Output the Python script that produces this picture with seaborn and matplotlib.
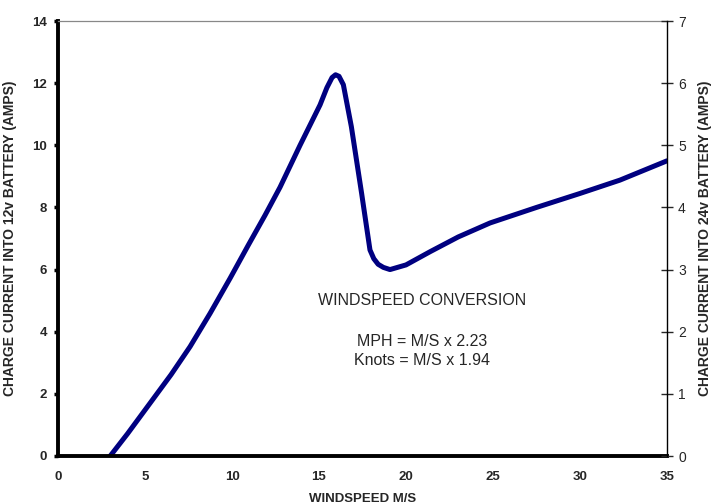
import matplotlib
matplotlib.use("Agg")
import matplotlib.pyplot as plt
import seaborn as sns
import pandas as pd

windspeed = [3, 4, 5.29, 6.5, 7.59, 8.74, 9.89, 10.94, 11.9, 12.76, 13.91, 15.06, 15.45, 15.75,
             15.95, 16.15, 16.4, 16.86, 17.45, 17.93, 18.15, 18.4, 18.7, 19.08, 20, 21.4, 23,
             24.83, 27.5, 30, 32.3, 35]
current12 = [0, 0.72, 1.70, 2.62, 3.52, 4.59, 5.72, 6.79, 7.75, 8.65, 10.0, 11.3, 11.85, 12.18,
             12.27, 12.22, 11.95, 10.6, 8.45, 6.63, 6.35, 6.17, 6.07, 6.0, 6.15, 6.58, 7.05,
             7.5, 8.0, 8.45, 8.88, 9.5]

x_ticks = [0, 5, 10, 15, 20, 25, 30, 35]
left_ticks = [0, 2, 4, 6, 8, 10, 12, 14]
right_ticks = [0, 1, 2, 3, 4, 5, 6, 7]

df = pd.DataFrame({"ws": windspeed, "amps": current12})

sns.set_style("white")
plt.rcParams["font.family"] = ["Liberation Sans", "DejaVu Sans"]

fig = plt.figure(figsize=(7.15, 5.04), dpi=100)
ax = fig.add_axes([58/715, 1-456/504, (667-58)/715, (456-21)/504])

sns.lineplot(data=df, x="ws", y="amps", ax=ax, color="#000080", linewidth=3.6,
             solid_capstyle="round", solid_joinstyle="round", sort=False)

ax.set_xlim(0, 35)
ax.set_ylim(0, 14)
ax.set_xticks(x_ticks)
ax.set_yticks(left_ticks)
ax.set_xticklabels([str(t) for t in x_ticks], fontweight="bold", fontsize=9.5)
ax.set_yticklabels([str(t) for t in left_ticks], fontweight="bold", fontsize=9.5)
ax.tick_params(axis="both", direction="out", length=3, width=2.5, color="black", pad=5)
ax.tick_params(axis="x", pad=8)

for s in ["left", "bottom"]:
    ax.spines[s].set_linewidth(2.8)
    ax.spines[s].set_color("black")
ax.spines["top"].set_linewidth(0.9)
ax.spines["top"].set_color("#888888")
ax.spines["right"].set_visible(False)

ax.set_xlabel("WINDSPEED M/S", fontweight="bold", fontsize=9.5, labelpad=7)
ax.set_ylabel("CHARGE CURRENT INTO 12v BATTERY (AMPS)", fontweight="bold", fontsize=10, labelpad=11)

ax2 = ax.twinx()
ax2.set_ylim(0, 7)
ax2.set_yticks(right_ticks)
ax2.set_yticklabels([str(t) for t in right_ticks], fontsize=10)
ax2.tick_params(axis="y", direction="inout", length=8, width=1, pad=4)
for s in ["left", "bottom", "top"]:
    ax2.spines[s].set_visible(False)
ax2.spines["right"].set_linewidth(1.0)
ax2.spines["right"].set_color("black")
ax2.set_ylabel("CHARGE CURRENT INTO 24v BATTERY (AMPS)", fontweight="bold", fontsize=10, labelpad=9)

ax.text(20.9, 5.0, "WINDSPEED CONVERSION", ha="center", va="center", fontsize=11.5)
ax.text(20.9, 3.7, "MPH = M/S x 2.23", ha="center", va="center", fontsize=11.5)
ax.text(20.9, 3.07, "Knots = M/S x 1.94", ha="center", va="center", fontsize=11.5)

fig.savefig("out.png", dpi=100)
